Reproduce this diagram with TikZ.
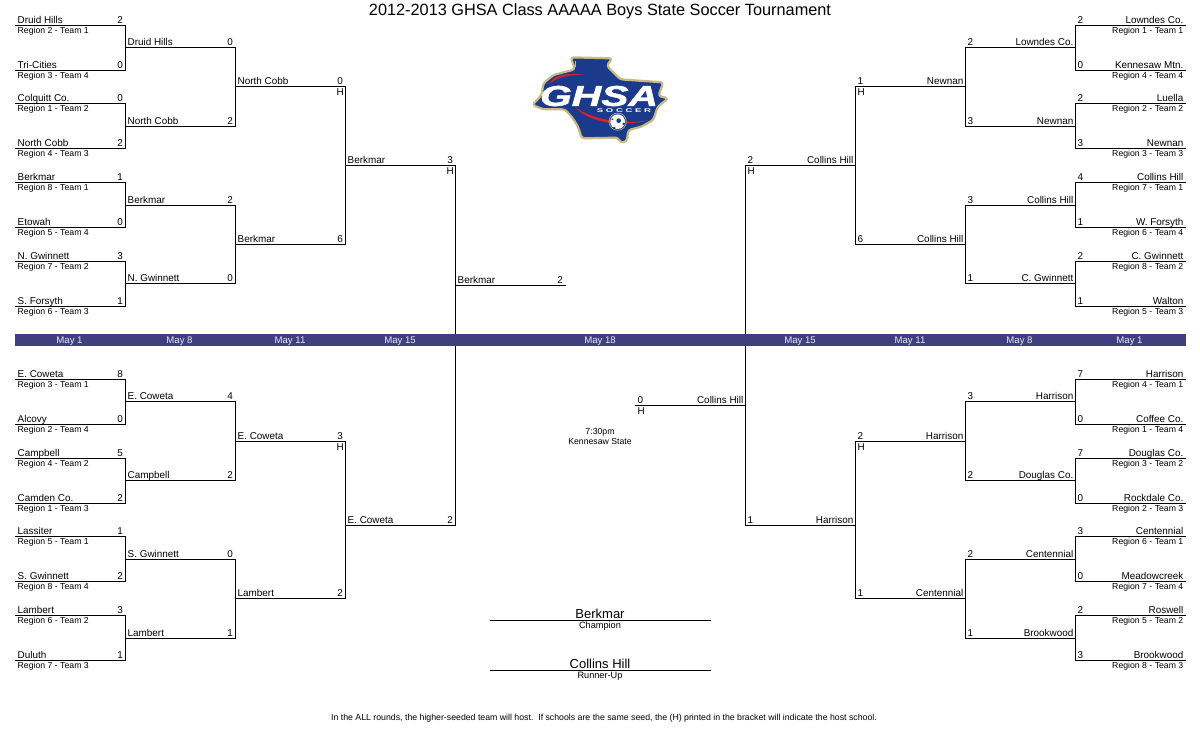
\documentclass[tikz,border=0pt]{standalone}
\usepackage{fontspec}
\setmainfont{Liberation Sans}
\definecolor{bandblue}{HTML}{3F3F7F}
\definecolor{logonavy}{HTML}{1C3A8C}
\definecolor{logogold}{HTML}{C8B982}
\definecolor{logored}{HTML}{D8232F}
\tikzset{
 bline/.style={draw=black,line width=1pt,line cap=rect},
 team/.style={inner sep=0pt,font=\fontsize{9.9}{10}\selectfont},
 region/.style={inner sep=0pt,font=\fontsize{8.7}{10}\selectfont},
 dateL/.style={inner sep=0pt,text=white!88!bandblue,font=\fontsize{9.6}{10}\selectfont},
 bigname/.style={inner sep=0pt,font=\fontsize{13}{14}\selectfont,anchor=base},
 smallname/.style={inner sep=0pt,font=\fontsize{9.2}{10}\selectfont,anchor=base},
}
\def\ty{1.8}
\newcommand{\slotL}[6]{%
 \coordinate (#1a) at (#2,#4); \coordinate (#1b) at (#3,#4);
 \draw[bline] (#1a)--(#1b);
 \node[team,anchor=base west] (#1t) at ([xshift=2pt,yshift=\ty pt]#1a) {#5};
 \node[team,anchor=base east] (#1s) at ([xshift=-2.5pt,yshift=2.5pt]#1b) {#6};}
\newcommand{\slotR}[6]{%
 \coordinate (#1a) at (#2,#4); \coordinate (#1b) at (#3,#4);
 \draw[bline] (#1a)--(#1b);
 \node[team,anchor=base east] (#1t) at ([xshift=-2pt,yshift=\ty pt]#1a) {#5};
 \node[team,anchor=base west] (#1s) at ([xshift=2pt,yshift=2.5pt]#1b) {#6};}
\newcommand{\regL}[2]{\node[region,anchor=base west] (#1r) at ([xshift=2pt,yshift=-7.8pt]#1a) {#2};}
\newcommand{\regR}[2]{\node[region,anchor=base east] (#1r) at ([xshift=-2pt,yshift=-7.8pt]#1a) {#2};}
\newcommand{\hostL}[1]{\node[team,anchor=base east] (#1h) at ([xshift=-1.5pt,yshift=-8.5pt]#1b) {H};}
\newcommand{\hostR}[1]{\node[team,anchor=base west] (#1h) at ([xshift=2pt,yshift=-8.5pt]#1b) {H};}
\begin{document}
\begin{tikzpicture}[x=1pt,y=-1pt]
\useasboundingbox (0,0) rectangle (1200,750);
\fill[white] (0,0) rectangle (1200,750);
\node[inner sep=0pt,font=\fontsize{16.3}{18}\selectfont,anchor=base] (title) at (600,15) {2012-2013 GHSA Class AAAAA Boys State Soccer Tournament};
\begin{scope}[shift={(0.5,0.5)}]
% ---- upper left
\def\ty{2.4}
\slotL{a1}{15}{125}{25}{Druid Hills}{2}\regL{a1}{Region 2 - Team 1}
\slotL{a2}{15}{125}{70}{Tri-Cities}{0}\regL{a2}{Region 3 - Team 4}
\slotL{a3}{15}{125}{103}{Colquitt Co.}{0}\regL{a3}{Region 1 - Team 2}
\slotL{a4}{15}{125}{148}{North Cobb}{2}\regL{a4}{Region 4 - Team 3}
\slotL{a5}{15}{125}{182}{Berkmar}{1}\regL{a5}{Region 8 - Team 1}
\slotL{a6}{15}{125}{227}{Etowah}{0}\regL{a6}{Region 5 - Team 4}
\slotL{a7}{15}{125}{261}{N. Gwinnett}{3}\regL{a7}{Region 7 - Team 2}
\slotL{a8}{15}{125}{306}{S. Forsyth}{1}\regL{a8}{Region 6 - Team 3}
\def\ty{1.8}
\slotL{b1}{125}{235}{47}{Druid Hills}{0}
\slotL{b2}{125}{235}{126}{North Cobb}{2}
\slotL{b3}{125}{235}{205}{Berkmar}{2}
\slotL{b4}{125}{235}{283}{N. Gwinnett}{0}
\slotL{c1}{235}{345}{86}{North Cobb}{0}\hostL{c1}
\slotL{c2}{235}{345}{244}{Berkmar}{6}
\slotL{d1}{345}{455}{165}{Berkmar}{3}\hostL{d1}
\slotL{e1}{455}{565}{285}{Berkmar}{2}
\draw[bline] (a1b)--(a2b); \draw[bline] (a3b)--(a4b); \draw[bline] (a5b)--(a6b); \draw[bline] (a7b)--(a8b);
\draw[bline] (b1b)--(b2b); \draw[bline] (b3b)--(b4b); \draw[bline] (c1b)--(c2b);
% ---- lower left
\def\ty{2.4}
\slotL{f1}{15}{125}{379}{E. Coweta}{8}\regL{f1}{Region 3 - Team 1}
\slotL{f2}{15}{125}{424}{Alcovy}{0}\regL{f2}{Region 2 - Team 4}
\slotL{f3}{15}{125}{458}{Campbell}{5}\regL{f3}{Region 4 - Team 2}
\slotL{f4}{15}{125}{503}{Camden Co.}{2}\regL{f4}{Region 1 - Team 3}
\slotL{f5}{15}{125}{536}{Lassiter}{1}\regL{f5}{Region 5 - Team 1}
\slotL{f6}{15}{125}{581}{S. Gwinnett}{2}\regL{f6}{Region 8 - Team 4}
\slotL{f7}{15}{125}{615}{Lambert}{3}\regL{f7}{Region 6 - Team 2}
\slotL{f8}{15}{125}{660}{Duluth}{1}\regL{f8}{Region 7 - Team 3}
\def\ty{1.8}
\slotL{g1}{125}{235}{401}{E. Coweta}{4}
\slotL{g2}{125}{235}{480}{Campbell}{2}
\slotL{g3}{125}{235}{559}{S. Gwinnett}{0}
\slotL{g4}{125}{235}{638}{Lambert}{1}
\slotL{h1}{235}{345}{441}{E. Coweta}{3}\hostL{h1}
\slotL{h2}{235}{345}{598}{Lambert}{2}
\slotL{i1}{345}{455}{525}{E. Coweta}{2}
\draw[bline] (f1b)--(f2b); \draw[bline] (f3b)--(f4b); \draw[bline] (f5b)--(f6b); \draw[bline] (f7b)--(f8b);
\draw[bline] (g1b)--(g2b); \draw[bline] (g3b)--(g4b); \draw[bline] (h1b)--(h2b);
\draw[bline] (d1b)--(i1b);
% ---- upper right
\def\ty{2.4}
\slotR{j1}{1185}{1075}{25}{Lowndes Co.}{2}\regR{j1}{Region 1 - Team 1}
\slotR{j2}{1185}{1075}{70}{Kennesaw Mtn.}{0}\regR{j2}{Region 4 - Team 4}
\slotR{j3}{1185}{1075}{103}{Luella}{2}\regR{j3}{Region 2 - Team 2}
\slotR{j4}{1185}{1075}{148}{Newnan}{3}\regR{j4}{Region 3 - Team 3}
\slotR{j5}{1185}{1075}{182}{Collins Hill}{4}\regR{j5}{Region 7 - Team 1}
\slotR{j6}{1185}{1075}{227}{W. Forsyth}{1}\regR{j6}{Region 6 - Team 4}
\slotR{j7}{1185}{1075}{261}{C. Gwinnett}{2}\regR{j7}{Region 8 - Team 2}
\slotR{j8}{1185}{1075}{306}{Walton}{1}\regR{j8}{Region 5 - Team 3}
\def\ty{1.8}
\slotR{k1}{1075}{965}{47}{Lowndes Co.}{2}
\slotR{k2}{1075}{965}{126}{Newnan}{3}
\slotR{k3}{1075}{965}{205}{Collins Hill}{3}
\slotR{k4}{1075}{965}{283}{C. Gwinnett}{1}
\slotR{l1}{965}{855}{86}{Newnan}{1}\hostR{l1}
\slotR{l2}{965}{855}{244}{Collins Hill}{6}
\slotR{m1}{855}{745}{165}{Collins Hill}{2}\hostR{m1}
\slotR{n1}{745}{635}{405}{Collins Hill}{0}\hostR{n1}
\draw[bline] (j1b)--(j2b); \draw[bline] (j3b)--(j4b); \draw[bline] (j5b)--(j6b); \draw[bline] (j7b)--(j8b);
\draw[bline] (k1b)--(k2b); \draw[bline] (k3b)--(k4b); \draw[bline] (l1b)--(l2b);
% ---- lower right
\def\ty{2.4}
\slotR{o1}{1185}{1075}{379}{Harrison}{7}\regR{o1}{Region 4 - Team 1}
\slotR{o2}{1185}{1075}{424}{Coffee Co.}{0}\regR{o2}{Region 1 - Team 4}
\slotR{o3}{1185}{1075}{458}{Douglas Co.}{7}\regR{o3}{Region 3 - Team 2}
\slotR{o4}{1185}{1075}{503}{Rockdale Co.}{0}\regR{o4}{Region 2 - Team 3}
\slotR{o5}{1185}{1075}{536}{Centennial}{3}\regR{o5}{Region 6 - Team 1}
\slotR{o6}{1185}{1075}{581}{Meadowcreek}{0}\regR{o6}{Region 7 - Team 4}
\slotR{o7}{1185}{1075}{615}{Roswell}{2}\regR{o7}{Region 5 - Team 2}
\slotR{o8}{1185}{1075}{660}{Brookwood}{3}\regR{o8}{Region 8 - Team 3}
\def\ty{1.8}
\slotR{p1}{1075}{965}{401}{Harrison}{3}
\slotR{p2}{1075}{965}{480}{Douglas Co.}{2}
\slotR{p3}{1075}{965}{559}{Centennial}{2}
\slotR{p4}{1075}{965}{638}{Brookwood}{1}
\slotR{q1}{965}{855}{441}{Harrison}{2}\hostR{q1}
\slotR{q2}{965}{855}{598}{Centennial}{1}
\slotR{r1}{855}{745}{525}{Harrison}{1}
\draw[bline] (o1b)--(o2b); \draw[bline] (o3b)--(o4b); \draw[bline] (o5b)--(o6b); \draw[bline] (o7b)--(o8b);
\draw[bline] (p1b)--(p2b); \draw[bline] (p3b)--(p4b); \draw[bline] (q1b)--(q2b);
\draw[bline] (m1b)--(r1b);
\end{scope}
% ---- date band
\fill[bandblue] (15,334) rectangle (1186,346);
\foreach \n/\x/\t in {1/69.5/May 1,2/179.5/May 8,3/290/May 11,4/400/May 15,5/600/May 18,6/800/May 15,7/910/May 11,8/1019.5/May 8,9/1129.5/May 1}
 \node[dateL,anchor=base] (date\n) at (\x,343.5) {\t};
% ---- centre texts
\node[region,anchor=base] (time) at (600,434) {7:30pm};
\node[region,anchor=base] (venue) at (600,444) {Kennesaw State};
\coordinate (champa) at (490.5,620.5); \coordinate (champb) at (710.5,620.5);
\draw[bline] (champa)--(champb);
\node[bigname] (champ) at (600,618) {Berkmar};
\node[smallname] (champl) at (600,628) {Champion};
\coordinate (rua) at (490.5,670.5); \coordinate (rub) at (710.5,670.5);
\draw[bline] (rua)--(rub);
\node[bigname] (ru) at (600,668) {Collins Hill};
\node[smallname] (rul) at (600,678) {Runner-Up};
\node[inner sep=0pt,font=\fontsize{8.75}{10}\selectfont,anchor=base] (foot) at (604,720) {In the ALL rounds, the higher-seeded team will host.\ \ If schools are the same seed, the (H) printed in the bracket will indicate the host school.};
% ---- logo
\begin{scope}[shift={(525,50)},x=0.3333pt,y=-0.3333pt]
 \path[fill=logonavy,draw=logogold,line width=2.2pt,line join=round,rounded corners=3pt]
 (137,22)--(262,25)--(245,47)--(270,72)--(285,88)--(415,97)--(400,138)--(430,145)--(398,170)--(385,210)--(350,230)--(310,240)--(305,275)--(285,278)--(280,263)--(170,265)--(160,232)--(145,207)--(120,178)--(55,178)--(22,165)--(50,135)--(55,100)--(85,75)--(150,58)--cycle;
 \draw[logogold,line width=0.6pt] (150,32)--(150,50);
 \fill[logored] (72,102) .. controls (85,75) and (130,66) .. (178,75) .. controls (130,74) and (100,80) .. cycle;
 \fill[logored] (150,172) .. controls (180,205) and (260,238) .. (375,210) .. controls (300,224) and (210,212) .. cycle;
 \fill[white] (278,215) circle (22);
 \draw[logogold,line width=0.6pt] (278,215) circle (26);
 \fill[logonavy] (281,212) circle (7) (296,222) circle (4) (268,234) circle (4) (262,208) circle (3);
 \node[inner sep=0pt,text=white,anchor=center] (logotext) at (222,138) {\resizebox{118pt}{20pt}{\bfseries\itshape\addfontfeatures{FakeBold=1.5}GHSA}};
 \node[inner sep=0pt,text=white,anchor=center] (logosub) at (297,181) {\resizebox{54pt}{3.8pt}{\bfseries S O C C E R}};
\end{scope}
\end{tikzpicture}
\end{document}
